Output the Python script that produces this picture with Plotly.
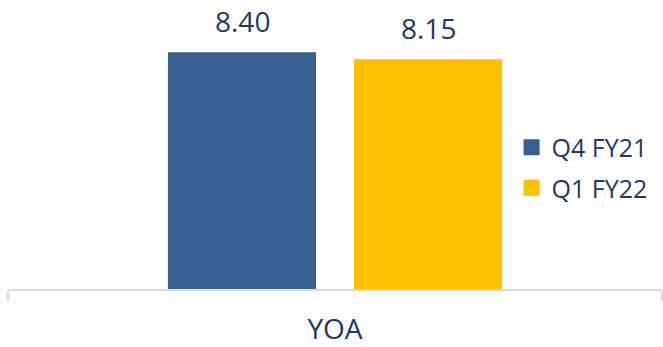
import plotly.graph_objects as go

# Data
categories = ["YOA"]
series_names = ["Q4 FY21", "Q1 FY22"]
series_values = [[8.40], [8.15]]
series_colors = ["#375F8F", "#FFC000"]

TEXT_COLOR = "#1F3864"
FONT = "Open Sans"
SLOT_PX = 186  # pixel width of each bar slot within the group

fig = go.Figure()

for i, (name, vals, color) in enumerate(zip(series_names, series_values, series_colors)):
    fig.add_trace(go.Bar(
        x=categories,
        y=vals,
        name=name,
        marker=dict(color=color, line=dict(width=0)),
        cliponaxis=False,
        showlegend=False,
    ))
    # legend entry with a larger square swatch
    fig.add_trace(go.Scatter(
        x=[None], y=[None],
        mode="markers",
        name=name,
        legendgroup=name,
        marker=dict(symbol="square", size=16, color=color),
        showlegend=True,
    ))
    # value labels above each bar
    shift = (i - (len(series_names) - 1) / 2) * SLOT_PX
    for cat, v in zip(categories, vals):
        fig.add_annotation(
            x=cat, y=v, xref="x", yref="y",
            text=f"{v:.2f}",
            showarrow=False,
            xanchor="center", yanchor="bottom",
            xshift=shift, yshift=10,
            font=dict(size=28, color=TEXT_COLOR, family=FONT),
        )

fig.update_layout(
    width=663,
    height=347,
    margin=dict(l=8, r=1, t=0, b=58),
    paper_bgcolor="white",
    plot_bgcolor="white",
    barmode="group",
    bargap=0.431,
    bargroupgap=0.204,
    font=dict(family=FONT, color=TEXT_COLOR),
    legend=dict(
        x=0.77, y=0.42,
        xanchor="left", yanchor="middle",
        font=dict(size=25, color=TEXT_COLOR, family=FONT),
        bgcolor="rgba(0,0,0,0)",
        itemsizing="trace",
        tracegroupgap=5,
    ),
    xaxis=dict(
        showline=True,
        linecolor="#D9D9D9",
        linewidth=2,
        ticks="outside",
        tickson="boundaries",
        ticklen=10,
        tickcolor="#D9D9D9",
        tickwidth=2,
        ticklabelstandoff=14,
        tickfont=dict(size=28, color=TEXT_COLOR, family=FONT),
        showgrid=False,
        zeroline=False,
    ),
    yaxis=dict(
        range=[0, 10.25],
        visible=False,
        showgrid=False,
        zeroline=False,
    ),
)

fig.write_html("out.html")
